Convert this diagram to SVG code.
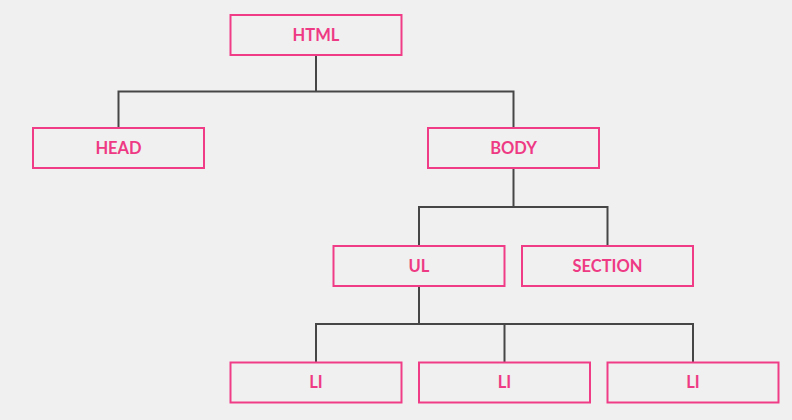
<svg xmlns="http://www.w3.org/2000/svg" width="792" height="420" viewBox="0 0 792 420">
<style>
.box{fill:none;stroke:#f03c87;stroke-width:2}
.lbl{font-family:Lato,"Open Sans","Liberation Sans",sans-serif;font-weight:bold;font-size:16.5px;fill:#ee3a84;text-anchor:middle}
.con{fill:none;stroke:#464646;stroke-width:2}
</style>
<rect width="792" height="420" fill="#f1f0f0"/>
<g id="connectors">
<path class="con" d="M316 55V91.5M118.5 128V91.5H513.5V128"/>
<path class="con" d="M513.5 168V207M419 246V207H607.5V246"/>
<path class="con" d="M419 286V324M316 362V324H693V362M504.5 324V362"/>
</g>
<g id="html"><rect class="box" x="230.5" y="15" width="171" height="40"/><text class="lbl" x="316" y="40.8">HTML</text></g>
<g id="head"><rect class="box" x="33" y="128" width="171" height="40"/><text class="lbl" x="118.5" y="153.8">HEAD</text></g>
<g id="body"><rect class="box" x="428" y="128" width="171" height="40"/><text class="lbl" x="513.5" y="153.8">BODY</text></g>
<g id="ul"><rect class="box" x="333.5" y="246" width="171" height="40"/><text class="lbl" x="419" y="271.8">UL</text></g>
<g id="section"><rect class="box" x="522" y="246" width="171" height="40"/><text class="lbl" x="607.5" y="271.8">SECTION</text></g>
<g id="li1"><rect class="box" x="230.5" y="362.5" width="171" height="40"/><text class="lbl" x="316" y="388.3">LI</text></g>
<g id="li2"><rect class="box" x="419" y="362.5" width="171" height="40"/><text class="lbl" x="504.5" y="388.3">LI</text></g>
<g id="li3"><rect class="box" x="607.5" y="362.5" width="171" height="40"/><text class="lbl" x="693" y="388.3">LI</text></g>
</svg>
